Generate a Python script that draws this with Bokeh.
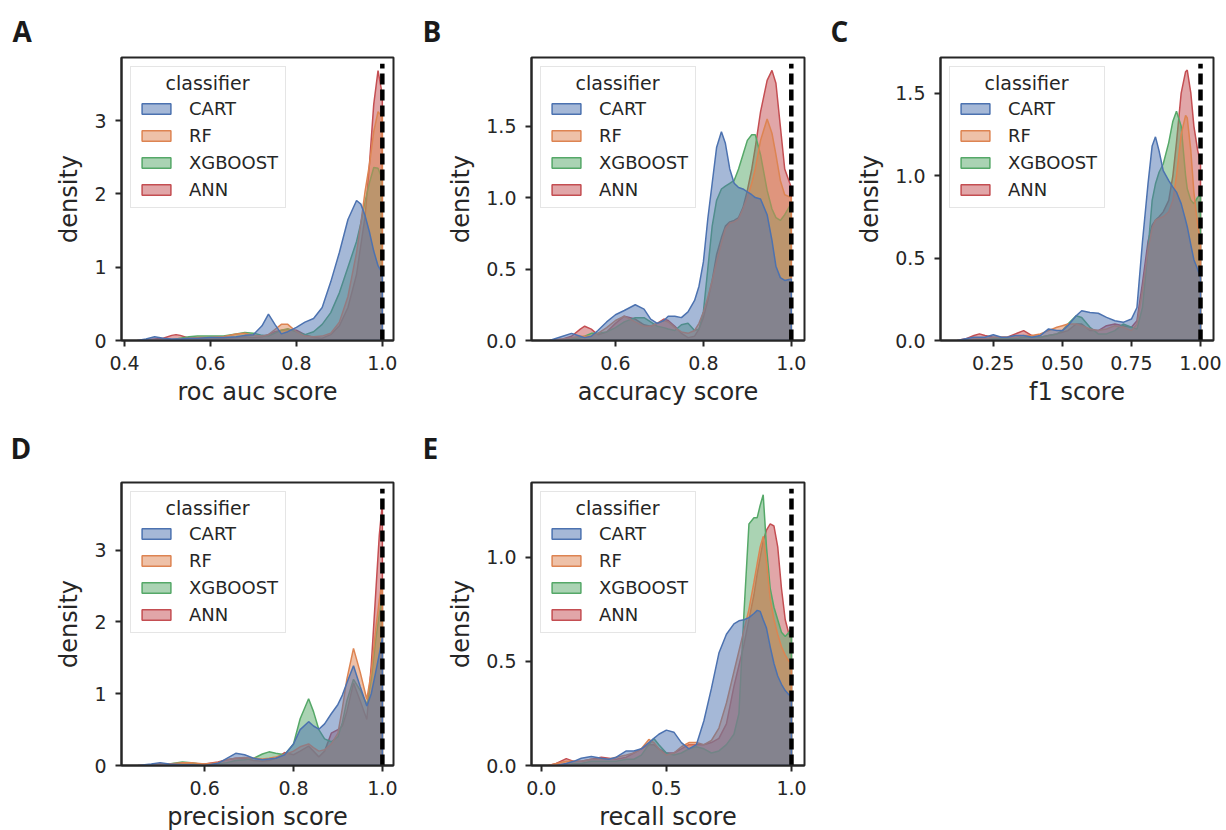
from bokeh.plotting import figure
from bokeh.models import Range1d, FixedTicker, Legend, LegendItem
from bokeh.layouts import row, column
from bokeh.embed import file_html
from bokeh.resources import INLINE
from bokeh.core.properties import value

# ---------------- data ----------------
CLASSIFIERS = ["CART", "RF", "XGBOOST", "ANN"]
COLORS = ["#4C72B0", "#DD8452", "#55A868", "#C44E52"]
LEGEND_TITLE = "classifier"
REF_X = 1.0  # perfect score reference line

# Panel A: roc auc score
X_A = [0.43, 0.45, 0.47, 0.49, 0.51, 0.52, 0.53, 0.55, 0.57, 0.60, 0.63, 0.66, 0.68, 0.70, 0.72, 0.735,
       0.75, 0.765, 0.78, 0.80, 0.82, 0.84, 0.86, 0.88, 0.90, 0.92, 0.94, 0.95, 0.96, 0.97, 0.98, 0.99, 1.00]
CART_A = [0.0, 0.02, 0.05, 0.03, 0.02, 0.02, 0.02, 0.03, 0.03, 0.04, 0.04, 0.05, 0.07, 0.08, 0.2, 0.36,
          0.22, 0.09, 0.12, 0.18, 0.25, 0.3, 0.45, 0.8, 1.2, 1.65, 1.91, 1.86, 1.7, 1.48, 1.22, 1.02, 0.92]
RF_A = [0.0, 0.0, 0.01, 0.01, 0.01, 0.01, 0.02, 0.03, 0.04, 0.04, 0.05, 0.09, 0.1, 0.07, 0.06, 0.08,
        0.15, 0.22, 0.22, 0.12, 0.06, 0.05, 0.06, 0.1, 0.25, 0.6, 1.2, 1.6, 2.04, 2.4, 2.85, 3.12, 3.05]
XGB_A = [0.0, 0.0, 0.0, 0.0, 0.01, 0.02, 0.03, 0.05, 0.06, 0.06, 0.06, 0.09, 0.11, 0.1, 0.07, 0.06,
         0.1, 0.14, 0.16, 0.12, 0.08, 0.12, 0.22, 0.38, 0.65, 1.0, 1.35, 1.6, 1.9, 2.15, 2.36, 2.35, 2.2]
ANN_A = [0.0, 0.01, 0.02, 0.03, 0.07, 0.08, 0.07, 0.03, 0.02, 0.03, 0.03, 0.04, 0.05, 0.04, 0.05, 0.08,
         0.12, 0.14, 0.15, 0.14, 0.08, 0.04, 0.03, 0.08, 0.2, 0.45, 0.9, 1.3, 1.7, 2.4, 3.22, 3.68, 3.35]

# Panel B: accuracy score
X_B = [0.45, 0.48, 0.50, 0.52, 0.53, 0.545, 0.56, 0.58, 0.60, 0.62, 0.645, 0.665, 0.68, 0.695, 0.71,
       0.72, 0.735, 0.75, 0.765, 0.78, 0.79, 0.80, 0.81, 0.82, 0.83, 0.841, 0.85, 0.86, 0.87, 0.88,
       0.89, 0.90, 0.91, 0.918, 0.93, 0.945, 0.956, 0.965, 0.975, 0.985, 1.00]
CART_B = [0.0, 0.03, 0.05, 0.03, 0.02, 0.03, 0.07, 0.13, 0.18, 0.21, 0.25, 0.22, 0.15, 0.12, 0.14,
          0.17, 0.17, 0.16, 0.2, 0.28, 0.38, 0.55, 0.85, 1.1, 1.35, 1.46, 1.38, 1.2, 1.1, 1.07,
          1.06, 1.04, 1.02, 1.0, 0.99, 0.88, 0.7, 0.52, 0.44, 0.42, 0.43]
RF_B = [0.0, 0.01, 0.02, 0.03, 0.03, 0.03, 0.05, 0.09, 0.14, 0.17, 0.13, 0.1, 0.1, 0.12, 0.14,
        0.13, 0.09, 0.06, 0.05, 0.07, 0.12, 0.2, 0.3, 0.42, 0.55, 0.68, 0.78, 0.82, 0.83, 0.85,
        0.92, 1.0, 1.1, 1.2, 1.4, 1.55, 1.45, 1.3, 1.12, 1.02, 1.0]
XGB_B = [0.0, 0.0, 0.01, 0.02, 0.03, 0.05, 0.05, 0.06, 0.09, 0.13, 0.16, 0.16, 0.13, 0.1, 0.09,
         0.08, 0.07, 0.11, 0.12, 0.07, 0.08, 0.2, 0.5, 0.8, 0.98, 1.06, 1.08, 1.1, 1.12, 1.2,
         1.3, 1.4, 1.44, 1.44, 1.3, 1.05, 0.92, 0.86, 0.84, 0.88, 0.96]
ANN_B = [0.0, 0.01, 0.03, 0.08, 0.1, 0.08, 0.04, 0.06, 0.12, 0.17, 0.15, 0.11, 0.1, 0.12, 0.15,
         0.14, 0.1, 0.05, 0.02, 0.03, 0.08, 0.16, 0.28, 0.42, 0.6, 0.72, 0.8, 0.83, 0.84, 0.86,
         0.93, 1.05, 1.2, 1.35, 1.6, 1.82, 1.89, 1.8, 1.5, 1.2, 1.07]

# Panel C: f1 score
X_C = [0.12, 0.15, 0.18, 0.20, 0.22, 0.25, 0.28, 0.30, 0.33, 0.36, 0.39, 0.42, 0.45, 0.48, 0.50,
       0.52, 0.55, 0.57, 0.60, 0.63, 0.66, 0.69, 0.72, 0.75, 0.77, 0.79, 0.81, 0.825, 0.837, 0.85,
       0.865, 0.885, 0.9, 0.913, 0.93, 0.946, 0.952, 0.965, 0.976, 0.99, 1.00]
CART_C = [0.0, 0.01, 0.02, 0.02, 0.02, 0.035, 0.02, 0.02, 0.03, 0.03, 0.02, 0.03, 0.07, 0.06, 0.06,
          0.09, 0.15, 0.18, 0.17, 0.165, 0.14, 0.12, 0.11, 0.13, 0.2, 0.6, 0.95, 1.18, 1.235, 1.15,
          1.03, 0.97, 0.93, 0.9, 0.83, 0.73, 0.69, 0.58, 0.49, 0.43, 0.38]
RF_C = [0.0, 0.0, 0.01, 0.01, 0.01, 0.02, 0.02, 0.02, 0.02, 0.03, 0.03, 0.04, 0.06, 0.08, 0.09,
        0.1, 0.1, 0.09, 0.07, 0.06, 0.07, 0.09, 0.08, 0.06, 0.1, 0.3, 0.55, 0.68, 0.73, 0.74,
        0.75, 0.78, 0.85, 1.0, 1.25, 1.365, 1.35, 1.15, 0.9, 0.7, 0.6]
XGB_C = [0.0, 0.0, 0.0, 0.01, 0.01, 0.01, 0.01, 0.01, 0.01, 0.02, 0.02, 0.02, 0.03, 0.04, 0.06,
         0.1, 0.15, 0.14, 0.08, 0.04, 0.04, 0.06, 0.1, 0.08, 0.07, 0.2, 0.55, 0.85, 0.95, 1.02,
         1.07, 1.2, 1.33, 1.39, 1.3, 1.0, 0.92, 0.85, 0.83, 0.87, 0.88]
ANN_C = [0.0, 0.01, 0.03, 0.04, 0.03, 0.02, 0.02, 0.02, 0.04, 0.06, 0.03, 0.02, 0.03, 0.04, 0.05,
         0.06, 0.1, 0.1, 0.06, 0.06, 0.09, 0.1, 0.09, 0.08, 0.12, 0.35, 0.6, 0.7, 0.73, 0.75,
         0.78, 0.85, 1.0, 1.2, 1.5, 1.63, 1.64, 1.5, 1.3, 1.15, 1.08]

# Panel D: precision score
X_D = [0.45, 0.48, 0.50, 0.52, 0.55, 0.57, 0.60, 0.63, 0.65, 0.67, 0.69, 0.71, 0.73, 0.745, 0.76,
       0.78, 0.80, 0.815, 0.834, 0.845, 0.857, 0.87, 0.885, 0.9, 0.91, 0.92, 0.935, 0.95, 0.965,
       0.975, 0.985, 0.993, 1.00]
CART_D = [0.0, 0.02, 0.04, 0.02, 0.01, 0.01, 0.0, 0.03, 0.1, 0.17, 0.15, 0.1, 0.08, 0.09, 0.1,
          0.15, 0.3, 0.5, 0.61, 0.55, 0.505, 0.58, 0.72, 0.85, 0.98, 1.15, 1.39, 1.1, 0.83,
          1.0, 1.3, 1.55, 1.78]
RF_D = [0.0, 0.01, 0.02, 0.02, 0.04, 0.04, 0.02, 0.04, 0.08, 0.1, 0.11, 0.1, 0.09, 0.1, 0.12,
        0.15, 0.2, 0.26, 0.3, 0.25, 0.2, 0.22, 0.3, 0.45, 0.8, 1.2, 1.63, 1.3, 0.92,
        1.3, 1.9, 2.3, 2.6]
XGB_D = [0.0, 0.0, 0.01, 0.02, 0.05, 0.04, 0.01, 0.02, 0.04, 0.07, 0.08, 0.1, 0.16, 0.19, 0.17,
         0.15, 0.3, 0.65, 0.93, 0.75, 0.5, 0.37, 0.33, 0.4, 0.6, 0.9, 1.2, 1.05, 0.85,
         1.2, 1.75, 2.1, 2.35]
ANN_D = [0.0, 0.01, 0.02, 0.02, 0.02, 0.02, 0.02, 0.05, 0.08, 0.1, 0.1, 0.07, 0.06, 0.07, 0.1,
         0.18, 0.15, 0.2, 0.27, 0.2, 0.12, 0.2, 0.45, 0.5, 0.55, 0.75, 1.15, 0.9, 0.64,
         1.4, 2.4, 3.2, 3.66]

# Panel E: recall score
X_E = [0.03, 0.06, 0.10, 0.13, 0.16, 0.20, 0.24, 0.27, 0.30, 0.34, 0.37, 0.40, 0.43, 0.45, 0.47,
       0.50, 0.53, 0.56, 0.59, 0.62, 0.65, 0.68, 0.71, 0.74, 0.77, 0.79, 0.81, 0.83, 0.85, 0.863,
       0.875, 0.887, 0.9, 0.915, 0.93, 0.945, 0.96, 0.975, 0.99, 1.00]
CART_E = [0.0, 0.0, 0.01, 0.02, 0.035, 0.043, 0.035, 0.03, 0.04, 0.07, 0.07, 0.08, 0.11, 0.13, 0.15,
          0.17, 0.16, 0.11, 0.08, 0.1, 0.215, 0.37, 0.54, 0.63, 0.68, 0.695, 0.7, 0.71, 0.73, 0.745,
          0.74, 0.7, 0.66, 0.57, 0.49, 0.43, 0.39, 0.36, 0.34, 0.33]
RF_E = [0.0, 0.01, 0.02, 0.02, 0.02, 0.03, 0.03, 0.03, 0.04, 0.05, 0.06, 0.08, 0.125, 0.11, 0.08,
        0.05, 0.06, 0.09, 0.11, 0.11, 0.1, 0.12, 0.18, 0.3, 0.45, 0.55, 0.65, 0.75, 0.88, 0.97,
        1.05, 1.1, 0.98, 0.8, 0.7, 0.63, 0.57, 0.53, 0.5, 0.5]
XGB_E = [0.0, 0.0, 0.0, 0.01, 0.01, 0.02, 0.02, 0.02, 0.02, 0.03, 0.03, 0.05, 0.1, 0.13, 0.1,
         0.06, 0.05, 0.06, 0.08, 0.09, 0.08, 0.06, 0.07, 0.1, 0.15, 0.25, 0.73, 1.16, 1.19, 1.19,
         1.25, 1.3, 1.05, 0.85, 0.76, 0.7, 0.64, 0.62, 0.64, 0.66]
ANN_E = [0.0, 0.01, 0.033, 0.02, 0.02, 0.03, 0.04, 0.035, 0.03, 0.04, 0.06, 0.08, 0.1, 0.1, 0.08,
         0.06, 0.06, 0.08, 0.1, 0.1, 0.1, 0.11, 0.13, 0.2, 0.38, 0.48, 0.58, 0.7, 0.82, 0.92,
         1.0, 1.08, 1.13, 1.16, 1.15, 1.05, 0.85, 0.7, 0.63, 0.62]

# axis ticks and labels
XT_A, XL_A = [0.4, 0.6, 0.8, 1.0], ["0.4", "0.6", "0.8", "1.0"]
YT_A, YL_A = [0, 1, 2, 3], ["0", "1", "2", "3"]
XT_B, XL_B = [0.6, 0.8, 1.0], ["0.6", "0.8", "1.0"]
YT_B, YL_B = [0.0, 0.5, 1.0, 1.5], ["0.0", "0.5", "1.0", "1.5"]
XT_C, XL_C = [0.25, 0.5, 0.75, 1.0], ["0.25", "0.50", "0.75", "1.00"]
YT_C, YL_C = [0.0, 0.5, 1.0, 1.5], ["0.0", "0.5", "1.0", "1.5"]
XT_D, XL_D = [0.6, 0.8, 1.0], ["0.6", "0.8", "1.0"]
YT_D, YL_D = [0, 1, 2, 3], ["0", "1", "2", "3"]
XT_E, XL_E = [0.0, 0.5, 1.0], ["0.0", "0.5", "1.0"]
YT_E, YL_E = [0.0, 0.5, 1.0], ["0.0", "0.5", "1.0"]

# ---------------- styling ----------------
INK = "#262626"
FONT = "DejaVu Sans"
FRAME_H = 283
LEG_CX, LEG_TY = 86, 25  # legend title centre, px from frame left / top


def make_panel(letter, xlabel, xs, series, xrange_, yrange_, xt, xl, yt, yl,
               fw, bl, br, bt, bb, letter_off, letter_standoff):
    p = figure(frame_width=fw, frame_height=FRAME_H,
               x_range=Range1d(*xrange_), y_range=Range1d(*yrange_),
               output_backend="svg", toolbar_location=None,
               min_border_left=bl, min_border_right=br,
               min_border_top=bt, min_border_bottom=bb,
               background_fill_color="white", border_fill_color="white")
    p.xgrid.visible = False
    p.ygrid.visible = False
    p.outline_line_color = INK
    p.outline_line_width = 2
    p.outline_line_alpha = 1.0

    # panel letter as the figure title
    p.title.text = letter
    p.title.align = "left"
    p.title.offset = letter_off
    p.title.standoff = letter_standoff
    p.title.text_font = "Open Sans"
    p.title.text_font_style = "bold"
    p.title.text_font_size = "28px"
    p.title.text_color = "#1a1a1a"

    p.xaxis.ticker = FixedTicker(ticks=xt)
    p.yaxis.ticker = FixedTicker(ticks=yt)
    p.xaxis.major_label_overrides = dict(zip(xt, xl))
    p.yaxis.major_label_overrides = dict(zip(yt, yl))
    p.xaxis.axis_label = xlabel
    p.yaxis.axis_label = "density"
    for ax in (p.xaxis[0], p.yaxis[0]):
        ax.axis_line_color = INK
        ax.axis_line_width = 2
        ax.major_tick_line_color = INK
        ax.major_tick_line_width = 2
        ax.major_tick_out = 6
        ax.major_tick_in = 0
        ax.minor_tick_line_color = None
        ax.major_label_text_font = FONT
        ax.major_label_text_font_size = "19px"
        ax.major_label_text_color = INK
        ax.axis_label_text_font = FONT
        ax.axis_label_text_font_size = "24px"
        ax.axis_label_text_font_style = "normal"
        ax.axis_label_text_color = INK
    p.xaxis.major_label_standoff = 9
    p.xaxis.axis_label_standoff = 5
    p.yaxis.major_label_standoff = 9
    p.yaxis.axis_label_standoff = 8

    renderers = {}
    # draw last classifier first so that the first one ends up on top
    for name, color, ys in reversed(list(zip(CLASSIFIERS, COLORS, series))):
        px = [xs[0]] + list(xs) + [xs[-1]]
        py = [0.0] + list(ys) + [0.0]
        r = p.patch(px, py, fill_color=color, fill_alpha=0.5,
                    line_color=color, line_width=1.5, line_alpha=1.0)
        renderers[name] = r

    top = yrange_[1] * 0.978
    p.segment(x0=[REF_X], y0=[0.0], x1=[REF_X], y1=[top], line_color="black",
              line_width=4.5, line_dash="11 5")

    # legend title, centred over the legend box
    sx = (xrange_[1] - xrange_[0]) / fw
    sy = (yrange_[1] - yrange_[0]) / FRAME_H
    p.text(x=[xrange_[0] + LEG_CX * sx], y=[yrange_[1] - LEG_TY * sy], text=[LEGEND_TITLE],
           text_font=value(FONT), text_font_size="19px", text_color=INK,
           text_align="center", text_baseline="middle")

    legend = Legend(items=[LegendItem(label=n, renderers=[renderers[n]]) for n in CLASSIFIERS],
                    location="top_left", margin=9, padding=7, spacing=6,
                    glyph_width=36, glyph_height=13, label_height=20, label_standoff=15,
                    label_text_font=FONT, label_text_font_size="18px", label_text_color=INK,
                    title=" ", title_text_font=FONT, title_text_font_size="19px",
                    title_text_font_style="normal", title_standoff=2,
                    border_line_color="#cccccc", border_line_width=1,
                    background_fill_color="white", background_fill_alpha=0.0)
    p.add_layout(legend)
    return p


pA = make_panel("A", "roc auc score", X_A, [CART_A, RF_A, XGB_A, ANN_A], (0.393, 1.026), (0, 3.86),
                XT_A, XL_A, YT_A, YL_A, 272, 121, 17, 57, 70, -109, 16)
pB = make_panel("B", "accuracy score", X_B, [CART_B, RF_B, XGB_B, ANN_B], (0.409, 1.03), (0, 1.98),
                XT_B, XL_B, YT_B, YL_B, 273, 121, 16, 57, 70, -109, 16)
pC = make_panel("C", "f1 score", X_C, [CART_C, RF_C, XGB_C, ANN_C], (0.059, 1.047), (0, 1.716),
                XT_C, XL_C, YT_C, YL_C, 273, 120, 13, 57, 70, -110, 16)
pD = make_panel("D", "precision score", X_D, [CART_D, RF_D, XGB_D, ANN_D], (0.413, 1.025), (0, 3.94),
                XT_D, XL_D, YT_D, YL_D, 272, 121, 17, 72, 65, -111, 31)
pE = make_panel("E", "recall score", X_E, [CART_E, RF_E, XGB_E, ANN_E], (-0.039, 1.052), (0, 1.359),
                XT_E, XL_E, YT_E, YL_E, 273, 121, 16, 72, 65, -109, 31)

layout = column(row(pA, pB, pC), row(pD, pE))

with open("out.html", "w") as f:
    f.write(file_html(layout, INLINE))
